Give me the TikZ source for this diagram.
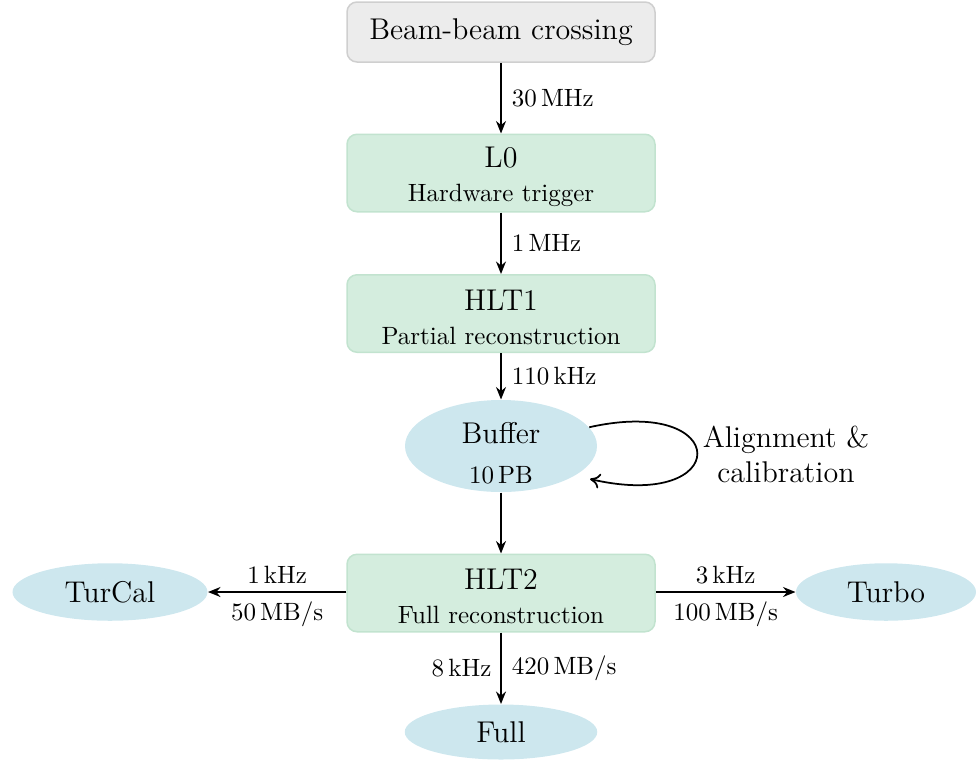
\documentclass[tikz,border=0pt]{standalone}
\usetikzlibrary{shapes.geometric,arrows.meta}
\definecolor{grayfill}{HTML}{ECECEC}
\definecolor{graydraw}{HTML}{CFCFCF}
\definecolor{greenfill}{HTML}{D4EDDE}
\definecolor{greendraw}{HTML}{C2E3CF}
\definecolor{bluefill}{HTML}{CDE7EE}
\tikzset{
  box/.style={rounded corners=4pt, minimum width=123.2pt, align=center},
  graybox/.style={box, fill=grayfill, draw=graydraw, line width=0.6pt, minimum height=24pt},
  greenbox/.style={box, fill=greenfill, draw=greendraw, line width=0.6pt, minimum height=31pt, inner ysep=1pt},
  blob/.style={ellipse, fill=bluefill, inner sep=0pt},
  flow/.style={-{Stealth[length=5pt,width=4pt]}, line width=0.7pt},
  lab/.style={font=\normalsize, inner sep=2pt},
  rlab/.style={lab, right, xshift=2pt},
  llab/.style={lab, left, xshift=-1.5pt},
}
\newcommand{\topstrut}{\rule{0pt}{11pt}}
\begin{document}
\begin{tikzpicture}[x=0.4pt,y=-0.4pt]
\useasboundingbox (0,0) rectangle (980,762);
\node[graybox, font=\large] (beam) at (501,32) {Beam-beam crossing};
\node[greenbox] (l0) at (501,173) {{\large\topstrut L0}\\[1.5pt] Hardware trigger};
\node[greenbox] (hlt1) at (501,313.5) {{\large\topstrut HLT1}\\[1.5pt] Partial reconstruction};
\node[blob, minimum width=76.8pt, minimum height=36.8pt] (buf) at (501,446) {};
\node[align=center, inner sep=0pt] (buftext) at (501,453) {{\large Buffer}\\[4pt] 10\,PB};
\node[greenbox] (hlt2) at (501,593) {{\large\topstrut HLT2}\\[1.5pt] Full reconstruction};
\node[blob, minimum width=78pt, minimum height=23pt, font=\large] (turcal) at (110,592) {TurCal};
\node[blob, minimum width=72pt, minimum height=23pt, font=\large] (turbo) at (886,592) {Turbo};
\node[blob, minimum width=77pt, minimum height=22pt, font=\large] (full) at (501,732) {Full};
\node[font=\large, align=center] (align) at (786,454) {Alignment \&\\ calibration};
\coordinate (loopin) at (590,479);

\draw[flow] (beam) -- node[rlab] {30\,MHz} (l0);
\draw[flow] (l0) -- node[rlab] {1\,MHz} (hlt1);
\draw[flow] (hlt1) -- node[rlab] {110\,kHz} (buf);
\draw[flow] (buf) -- (hlt2);
\draw[-{To[length=4pt,width=6pt]}, line width=0.7pt] (buf.12) .. controls (733,395) and (733,512) .. (loopin);
\draw[flow] (hlt2.west |- 0,592) -- node[lab, above, yshift=1pt] {1\,kHz} node[lab, below, yshift=-1.5pt] {50\,MB/s} (turcal.east);
\draw[flow] (hlt2.east |- 0,592) -- node[lab, above, yshift=1pt] {3\,kHz} node[lab, below, yshift=-1.5pt] {100\,MB/s} (turbo.west);
\draw[flow] (hlt2) -- node[llab] {8\,kHz} node[rlab] {420\,MB/s} (full);
\end{tikzpicture}
\end{document}
